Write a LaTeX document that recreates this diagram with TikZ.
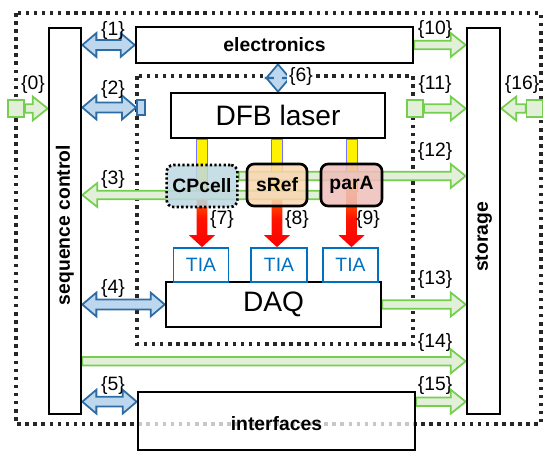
\documentclass[tikz,border=0pt]{standalone}
\usepackage{fontspec}
\setmainfont{Liberation Sans}
\usetikzlibrary{calc,backgrounds}

\definecolor{grline}{RGB}{118,206,78}
\definecolor{grfill}{RGB}{226,240,217}
\definecolor{blline}{RGB}{46,109,164}
\definecolor{blfill}{RGB}{189,215,238}
\definecolor{tiablue}{RGB}{0,112,192}
\definecolor{cpfill}{RGB}{190,216,226}
\definecolor{reffill}{RGB}{250,214,176}
\definecolor{parfill}{RGB}{240,190,186}

% point along / across the segment (\p1)->(\p2)
\newcommand{\ap}[2]{({\x1+\n2*(#1)-\n3*(#2)},{\y1+\n3*(#1)+\n2*(#2)})}

\tikzset{
  fat/.style n args={3}{to path={let \p1=(\tikztostart), \p2=(\tikztotarget),
      \n1={veclen(\x2-\x1,\y2-\y1)}, \n2={(\x2-\x1)/\n1}, \n3={(\y2-\y1)/\n1} in
      \ap{0pt}{#1} -- \ap{\n1-#3}{#1} -- \ap{\n1-#3}{#2} -- \ap{\n1}{0pt}
      -- \ap{\n1-#3}{-#2} -- \ap{\n1-#3}{-#1} -- \ap{0pt}{-#1} -- cycle}},
  dfat/.style n args={3}{to path={let \p1=(\tikztostart), \p2=(\tikztotarget),
      \n1={veclen(\x2-\x1,\y2-\y1)}, \n2={(\x2-\x1)/\n1}, \n3={(\y2-\y1)/\n1} in
      \ap{0pt}{0pt} -- \ap{#3}{#2} -- \ap{#3}{#1} -- \ap{\n1-#3}{#1} -- \ap{\n1-#3}{#2}
      -- \ap{\n1}{0pt} -- \ap{\n1-#3}{-#2} -- \ap{\n1-#3}{-#1} -- \ap{#3}{-#1} -- \ap{#3}{-#2} -- cycle}},
  garrow/.style={fat={2.4pt}{6.8pt}{8.5pt}, draw=grline, fill=grfill, line width=1pt},
  barrow/.style={dfat={2.8pt}{6.8pt}{8pt}, draw=blline, fill=blfill, line width=1pt},
  beam/.style={fat={3.1pt}{7.4pt}{6.8pt}, top color=orange, bottom color=red, middle color=red!85!orange},
  dotline/.style={line width=2pt, dash pattern=on 2pt off 2.6pt, black!85},
}

\begin{document}
\begin{tikzpicture}[x=0.02cm, y=-0.02cm,
    box/.style={draw, line width=1.5pt, fill=white, font=\bfseries\fontsize{11}{13}\selectfont},
    bigbox/.style={draw, line width=1.5pt, fill=white, font=\fontsize{16}{19}\selectfont},
    cell/.style={draw, line width=1.5pt, rounded corners=4pt, fill=#1, fill opacity=0.85, text opacity=1,
                 minimum height=0.84cm, font=\bfseries\fontsize{11}{13}\selectfont},
    tia/.style={draw=tiablue, line width=1pt, fill=white, text=tiablue, minimum width=1.1cm,
                minimum height=0.68cm, font=\fontsize{11}{13}\selectfont},
    sq/.style={draw=grline, fill=grfill, line width=1pt, minimum width=0.32cm, minimum height=0.34cm, inner sep=0pt},
    lbl/.style={font=\fontsize{11}{13}\selectfont, inner sep=1pt}
]
\useasboundingbox (0,0) rectangle (550,459);

% side columns
\node[box, minimum width=0.64cm, minimum height=7.72cm] (seq) at (65,221) {};
\node[rotate=90, font=\bfseries\fontsize{11}{13}\selectfont] (seqtxt) at ($(seq)+(0,4)$) {sequence control};
\node[box, minimum width=0.66cm, minimum height=7.72cm] (stor) at (483.5,221) {};
\node[rotate=90, font=\bfseries\fontsize{11}{13}\selectfont] (stortxt) at ($(stor)+(0,16)$) {storage};

% main blocks
\node[box, minimum width=5.54cm, minimum height=0.72cm] (elec) at (274.5,45) {electronics};
\node[bigbox, minimum width=4.28cm, minimum height=0.9cm] (dfb) at (278,115.5) {DFB laser};
\node[bigbox, minimum width=4.3cm, minimum height=0.9cm] (daq) at (273.5,304.5) {DAQ};
\node[box, fill opacity=0.75, text opacity=1, minimum width=5.54cm, minimum height=1.16cm] (intf) at (276.5,421) {};
\node[font=\bfseries\fontsize{11}{13}\selectfont] (intftxt) at ($(intf)+(0,3)$) {interfaces};

% cells
\node[cell=cpfill, dash pattern=on 1.3pt off 1.3pt, minimum width=1.36cm] (cp) at (202,186) {CPcell};
\node[cell=reffill, minimum width=1.2cm] (sref) at (277,185) {sRef};
\node[cell=parfill, minimum width=1.22cm] (para) at (351.5,185) {parA};

% amplifiers
\node[tia] (tia1) at (201,265) {TIA};
\node[tia, minimum width=1.12cm] (tia2) at (279,265) {TIA};
\node[tia] (tia3) at (350.5,265) {TIA};

% ports
\node[sq] (sq0) at (16,108.5) {};
\node[sq] (sq11) at (415,108.5) {};
\node[sq] (sq16) at (534.5,108.5) {};
\node[draw=blline, fill=blfill, line width=1pt, minimum width=0.16cm, minimum height=0.3cm, inner sep=0pt] (sq2) at (141,107.5) {};

\coordinate (c3) at ($(para.west)+(0,10)$);
\coordinate (c12) at ($(cp.east)+(0,-10)$);
\coordinate (c14) at ($(daq.south)+(0,33)$);
\coordinate (c15) at ($(intf.north)+(0,11)$);

\begin{scope}[on background layer]
  \draw[dotline] (16,13) rectangle (541,424);
  \draw[dotline] (137,76) rectangle (413,344);

  % beams
  \foreach \b/\t in {cp/tia1, sref/tia2, para/tia3} {
    \filldraw[fill=yellow, draw=blue!55, line width=0.3pt] ($(\b |- dfb.south)+(-5.5,0)$) rectangle ($(\b |- dfb.south)+(5.5,52)$);
    \shade[beam] ($(\b |- dfb.south)+(0,50)$) to (\b |- \t.north);
  }

  % data paths
  \draw[garrow] (sq0.east) to (seq.west |- sq0.east);
  \draw[barrow] (seq.east |- elec.west) to (elec.west);
  \draw[barrow] (seq.east |- sq2.west) to (sq2.west);
  \draw[garrow] (c3) to (seq.east |- c3);
  \draw[barrow] (seq.east |- daq.west) to (daq.west);
  \draw[barrow] (seq.east |- c15) to (intf.west |- c15);
  \draw[barrow] (dfb.north |- elec.south) to (dfb.north);
  \draw[garrow] (elec.east) to (stor.west |- elec.east);
  \draw[garrow] (sq11.east) to (stor.west |- sq11.east);
  \draw[garrow] (c12) to (stor.west |- c12);
  \draw[garrow] (daq.east) to (stor.west |- daq.east);
  \draw[garrow] (seq.east |- c14) to (stor.west |- c14);
  \draw[garrow] (intf.east |- c15) to (stor.west |- c15);
  \draw[garrow] (sq16.west) to (stor.east |- sq16.west);
\end{scope}

% labels
\node[lbl] (l0) at (33,85) {\{0\}};
\node[lbl] (l1) at (113,31) {\{1\}};
\node[lbl] (l2) at (113,90) {\{2\}};
\node[lbl] (l3) at (113,180) {\{3\}};
\node[lbl] (l4) at (113,288) {\{4\}};
\node[lbl] (l5) at (113,385) {\{5\}};
\node[lbl, fill=white] (l6) at (301,77) {\{6\}};
\node[lbl] (l7) at (222,220) {\{7\}};
\node[lbl] (l8) at (297,220) {\{8\}};
\node[lbl] (l9) at (368,220) {\{9\}};
\node[lbl] (l10) at (435,30) {\{10\}};
\node[lbl] (l11) at (435,85) {\{11\}};
\node[lbl] (l12) at (435,152) {\{12\}};
\node[lbl] (l13) at (435,280) {\{13\}};
\node[lbl] (l14) at (435,342) {\{14\}};
\node[lbl] (l15) at (435,385) {\{15\}};
\node[lbl] (l16) at (522,85) {\{16\}};

\end{tikzpicture}
\end{document}
